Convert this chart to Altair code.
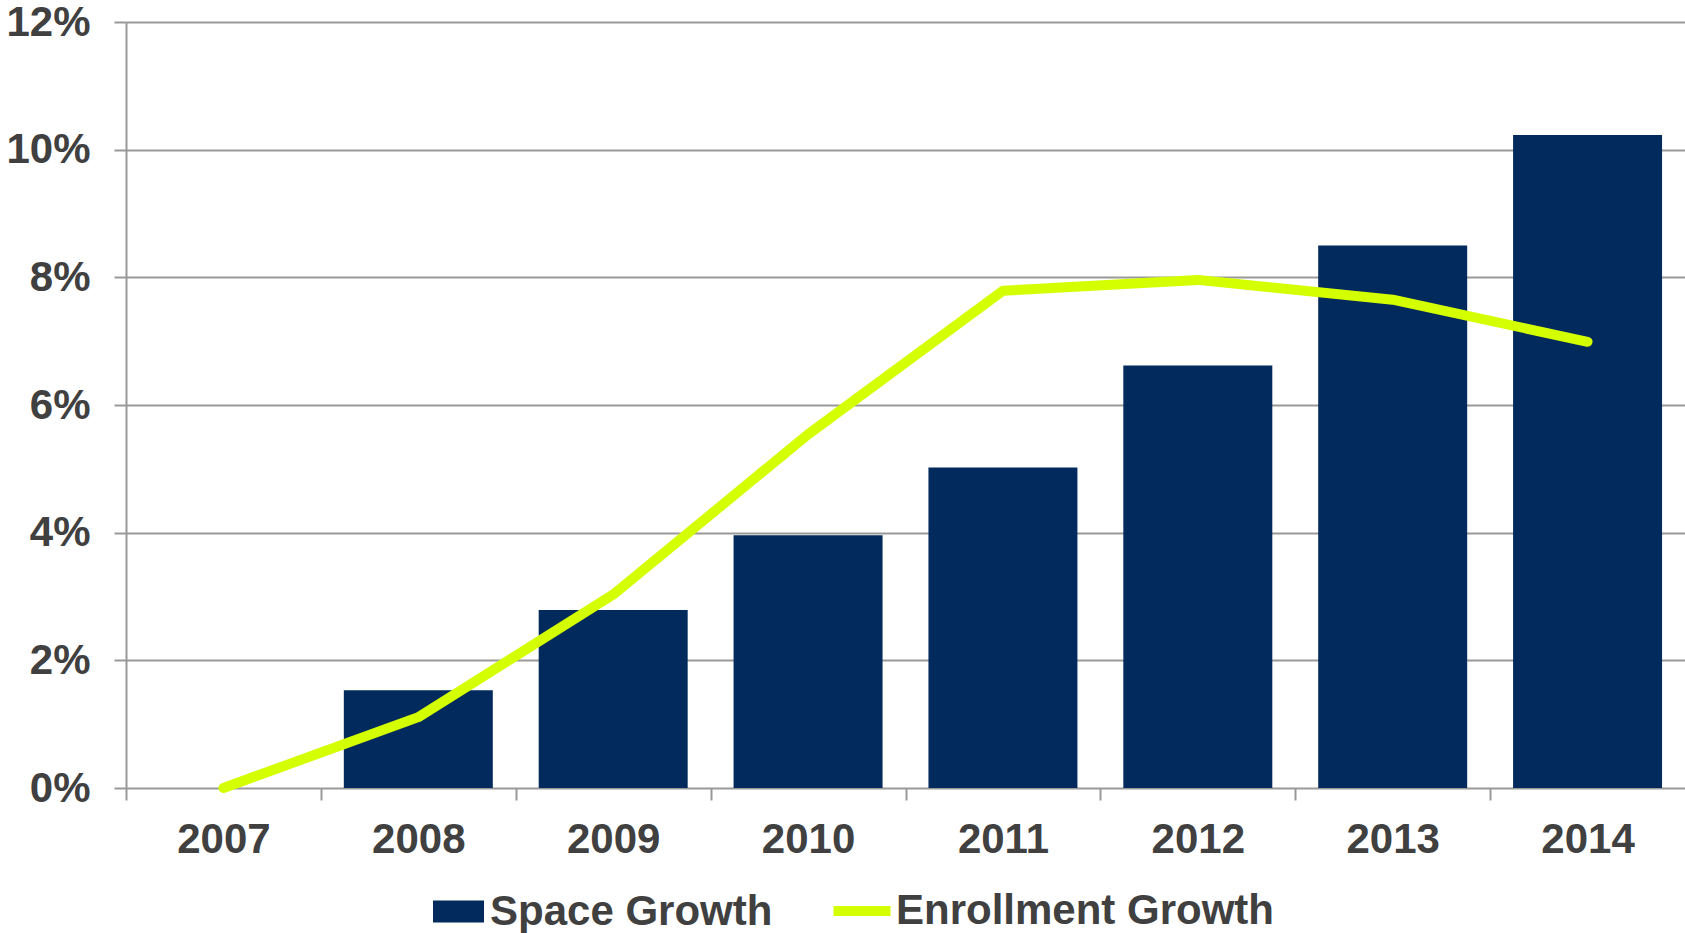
import altair as alt
import pandas as pd

# ---- data ----
years = ["2007", "2008", "2009", "2010", "2011", "2012", "2013", "2014"]
space_growth = [0.0, 0.0153, 0.0279, 0.0396, 0.0502, 0.0662, 0.0850, 0.1023]
enrollment_growth = [0.0, 0.0111, 0.0303, 0.0554, 0.0779, 0.0796, 0.0765, 0.0699]
y_ticks = [0.0, 0.02, 0.04, 0.06, 0.08, 0.10, 0.12]
series_names = ["Space Growth", "Enrollment Growth"]

df = pd.DataFrame({"year": years, "space": space_growth, "enroll": enrollment_growth})

# ---- styling ----
FONT = "Liberation Sans"
TXT = "#404040"
GRID = "#999999"
NAVY = "#022a5c"
LIME = "#d4ff00"
W, H = 1559, 766
STEP = W / len(years)

x_enc = alt.X(
    "year:O",
    sort=years,
    scale=alt.Scale(paddingInner=0.2355, paddingOuter=0.11775),
    axis=alt.Axis(
        title=None, labelAngle=0, domain=False, grid=False,
        ticks=True, tickSize=12, tickColor=GRID, tickWidth=2,
        tickOffset=-STEP / 2, labelOffset=STEP / 2,
        labelFont=FONT, labelFontSize=42, labelFontWeight="bold",
        labelColor=TXT, labelPadding=19,
    ),
)

y_scale = alt.Scale(domain=[0, 0.12], nice=False)

bars = (
    alt.Chart(df)
    .transform_calculate(series=f"'{series_names[0]}'")
    .mark_bar()
    .encode(
        x=x_enc,
        y=alt.Y(
            "space:Q", scale=y_scale,
            axis=alt.Axis(
                title=None, values=y_ticks, format=".0%",
                grid=True, gridColor=GRID, gridWidth=2,
                domain=True, domainColor=GRID, domainWidth=2,
                ticks=True, tickSize=12, tickColor=GRID, tickWidth=2,
                labelFont=FONT, labelFontSize=42, labelFontWeight="bold",
                labelColor=TXT, labelPadding=24,
            ),
        ),
        fill=alt.Fill(
            "series:N",
            scale=alt.Scale(domain=[series_names[0]], range=[NAVY]),
            legend=alt.Legend(
                title=None, orient="none", legendX=307, legendY=864,
                padding=0, symbolType="M-1,-0.431L1,-0.431L1,0.431L-1,0.431Z",
                symbolSize=2601, symbolStrokeWidth=0, symbolOpacity=1,
                labelFont=FONT, labelFontSize=42, labelFontWeight="bold",
                labelColor=TXT, labelOffset=6, labelLimit=0,
            ),
        ),
    )
)

line = (
    alt.Chart(df)
    .transform_calculate(series=f"'{series_names[1]}'")
    .mark_line(strokeWidth=10, strokeCap="round", strokeJoin="round")
    .encode(
        x=alt.X("year:O", sort=years),
        y=alt.Y("enroll:Q", scale=y_scale),
        stroke=alt.Stroke(
            "series:N",
            scale=alt.Scale(domain=[series_names[1]], range=[LIME]),
            legend=alt.Legend(
                title=None, orient="none", legendX=702, legendY=855,
                padding=0, symbolType="stroke", symbolSize=3250,
                symbolStrokeWidth=10,
                labelFont=FONT, labelFontSize=42, labelFontWeight="bold",
                labelColor=TXT, labelOffset=0, labelLimit=0,
            ),
        ),
    )
)

chart = (
    alt.layer(bars, line)
    .resolve_scale(fill="independent", stroke="independent")
    .properties(
        width=W, height=H,
        autosize=alt.AutoSizeParams(type="none"),
        padding={"left": 126, "top": 22, "right": 0, "bottom": 145},
        background="white",
    )
    .configure_view(stroke=None)
)

chart.save("out.html", embed_options={"renderer": "svg", "actions": False})
